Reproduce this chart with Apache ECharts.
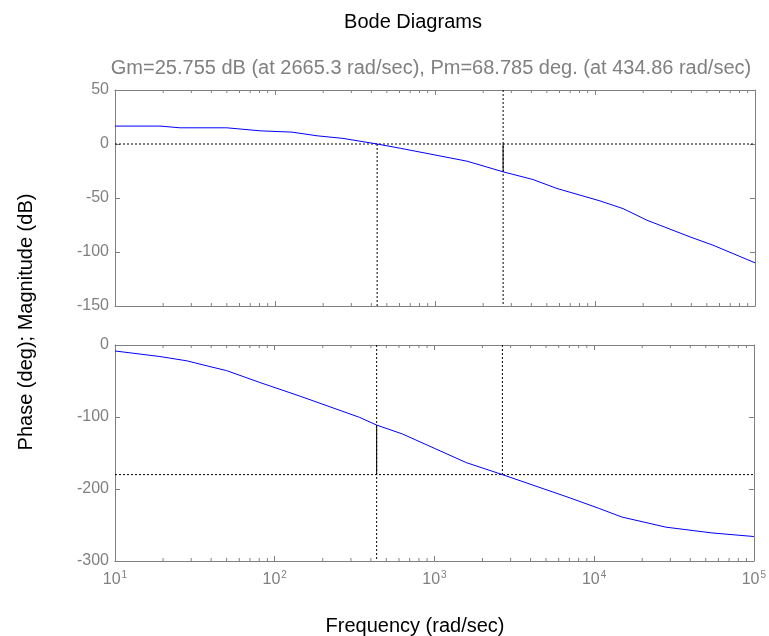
<!DOCTYPE html>
<html>
<head>
<meta charset="utf-8">
<script src="https://cdn.jsdelivr.net/npm/echarts@6/dist/echarts.min.js"></script>
<style>
  html, body { margin: 0; padding: 0; background: #fff; }
  #chart { width: 769px; height: 636px; }
</style>
</head>
<body>
<div id="chart"></div>
<script>
// Open-loop frequency response samples (rad/sec)
var magFreq  = [10, 19.1, 25.5, 50, 80.6, 127.7, 183, 266, 434.86, 610, 1585, 2665.3, 4098, 5788, 10750, 14962, 21135, 39250, 54640, 100000];
var magDb    = [16.6, 16.6, 15.0, 15.0, 12.2, 11.0, 7.6, 5.2, 0, -4, -15.9, -25.755, -32.9, -41.2, -52.7, -59.8, -70.6, -86, -93.7, -110];
var phaseFreq = [10, 19.1, 28.2, 39.3, 50, 80.6, 143, 340, 434.86, 631, 1585, 2665.3, 6982, 10750, 14962, 28184, 54640, 100000];
var phaseDeg  = [-8.3, -16, -22, -30, -35.6, -52, -70.8, -100.5, -111.215, -123.6, -163.4, -180, -212, -227, -239, -253, -261, -266];

// Stability margins
var gainMarginDb = 25.755;
var gainCrossFreq = 2665.3;    // phase crossover, where gain margin is read
var phaseMarginDeg = 68.785;
var phaseCrossFreq = 434.86;   // gain crossover, where phase margin is read

// Axis ranges and tick labels
var freqRange = [10, 100000];
var magRange = [-150, 50];
var magStep = 50;
var phaseRange = [-300, 0];
var phaseStep = 100;
var decadeExponents = [1, 2, 3, 4, 5];

var titleText = 'Bode Diagrams';
var marginText = 'Gm=' + gainMarginDb + ' dB (at ' + gainCrossFreq + ' rad/sec), Pm=' +
  phaseMarginDeg + ' deg. (at ' + phaseCrossFreq + ' rad/sec)';
var xLabelText = 'Frequency (rad/sec)';
var yLabelText = 'Phase (deg); Magnitude (dB)';

// Minor log ticks: 2..9 within every decade
var minorFreqs = [];
for (var d = 0; d < decadeExponents.length - 1; d++) {
  for (var m = 2; m <= 9; m++) minorFreqs.push(m * Math.pow(10, decadeExponents[d]));
}

var FONT = '"Liberation Sans", Arial, Helvetica, sans-serif';
var AXIS_GRAY = '#808080';
var phaseLine = -180 + phaseMarginDeg;

function pairs(xs, ys) { return xs.map(function (x, i) { return [x, ys[i]]; }); }

function logAxis(grid, pos, showLabels) {
  return {
    type: 'log', logBase: 10, gridIndex: grid, position: pos,
    min: freqRange[0], max: freqRange[1],
    axisLine: { show: true, onZero: false, lineStyle: { color: AXIS_GRAY, width: 1 } },
    axisTick: { show: true, inside: true, length: 5, lineStyle: { color: AXIS_GRAY } },
    splitLine: { show: false },
    axisLabel: showLabels ? {
      show: true, margin: 9,
      formatter: function (v) {
        var e = Math.round(Math.log10(v));
        return '{b|10}{e|' + e + '}';
      },
      rich: {
        b: { fontFamily: FONT, fontSize: 16, color: AXIS_GRAY, lineHeight: 18, verticalAlign: 'bottom' },
        e: { fontFamily: FONT, fontSize: 10, color: AXIS_GRAY, lineHeight: 18, verticalAlign: 'top', padding: [0, 0, 0, 1] }
      }
    } : { show: false }
  };
}

function valueAxis(grid, pos, range, step, showLabels) {
  return {
    type: 'value', gridIndex: grid, position: pos,
    min: range[0], max: range[1], interval: step,
    axisLine: { show: true, onZero: false, lineStyle: { color: AXIS_GRAY, width: 1 } },
    axisTick: { show: true, inside: true, length: 5, lineStyle: { color: AXIS_GRAY } },
    splitLine: { show: false },
    axisLabel: showLabels ? { show: true, margin: 6, fontFamily: FONT, fontSize: 16, color: AXIS_GRAY } : { show: false }
  };
}

function segment(xAxisIndex, yAxisIndex, pts, dotted) {
  return {
    type: 'line', xAxisIndex: xAxisIndex, yAxisIndex: yAxisIndex,
    data: pts, symbol: 'none', silent: true, animation: false,
    lineStyle: { color: '#000', width: 1, type: dotted ? [2, 2] : 'solid' },
    z: 3
  };
}

function minorTicks(xAxisIndex, yAxisIndex, range) {
  return {
    type: 'custom', xAxisIndex: xAxisIndex, yAxisIndex: yAxisIndex,
    silent: true, animation: false, z: 4,
    data: minorFreqs.map(function (f) { return [f]; }),
    renderItem: function (params, api) {
      var f = api.value(0);
      var lo = api.coord([f, range[0]]);
      var hi = api.coord([f, range[1]]);
      var len = 3;
      return {
        type: 'group',
        children: [
          { type: 'line', shape: { x1: lo[0], y1: lo[1], x2: lo[0], y2: lo[1] - len }, style: { stroke: AXIS_GRAY, lineWidth: 1 } },
          { type: 'line', shape: { x1: hi[0], y1: hi[1], x2: hi[0], y2: hi[1] + len }, style: { stroke: AXIS_GRAY, lineWidth: 1 } }
        ]
      };
    }
  };
}

var chart = echarts.init(document.getElementById('chart'), null, { renderer: 'canvas' });

var option = {
  backgroundColor: '#fff',
  animation: false,
  grid: [
    { left: 115, right: 14, top: 90, height: 216, containLabel: false },
    { left: 115, right: 14, top: 345, height: 216, containLabel: false }
  ],
  xAxis: [
    logAxis(0, 'bottom', false),
    logAxis(0, 'top', false),
    logAxis(1, 'bottom', true),
    logAxis(1, 'top', false)
  ],
  yAxis: [
    valueAxis(0, 'left', magRange, magStep, true),
    valueAxis(0, 'right', magRange, magStep, false),
    valueAxis(1, 'left', phaseRange, phaseStep, true),
    valueAxis(1, 'right', phaseRange, phaseStep, false)
  ],
  graphic: [
    { type: 'text', x: 413, y: 22, style: { text: titleText, font: '20px ' + FONT, fill: '#000', align: 'center', verticalAlign: 'middle' } },
    { type: 'text', x: 431, y: 68, style: { text: marginText, font: '20px ' + FONT, fill: AXIS_GRAY, align: 'center', verticalAlign: 'middle' } },
    { type: 'text', x: 415, y: 626, style: { text: xLabelText, font: '20px ' + FONT, fill: '#000', align: 'center', verticalAlign: 'middle' } },
    { type: 'text', x: 26, y: 322, rotation: Math.PI / 2, style: { text: yLabelText, font: '20px ' + FONT, fill: '#000', align: 'center', verticalAlign: 'middle' } }
  ],
  series: [
    minorTicks(0, 0, magRange),
    minorTicks(2, 2, phaseRange),

    // magnitude panel margin markers
    segment(0, 0, [[freqRange[0], 0], [freqRange[1], 0]], true),
    segment(0, 0, [[phaseCrossFreq, 0], [phaseCrossFreq, magRange[0]]], true),
    segment(0, 0, [[gainCrossFreq, magRange[1]], [gainCrossFreq, magRange[0]]], true),
    segment(0, 0, [[gainCrossFreq, 0], [gainCrossFreq, -gainMarginDb]], false),

    // phase panel margin markers
    segment(2, 2, [[freqRange[0], -180], [freqRange[1], -180]], true),
    segment(2, 2, [[phaseCrossFreq, phaseRange[1]], [phaseCrossFreq, phaseRange[0]]], true),
    segment(2, 2, [[gainCrossFreq, phaseRange[1]], [gainCrossFreq, -180]], true),
    segment(2, 2, [[phaseCrossFreq, phaseLine], [phaseCrossFreq, -180]], false),

    {
      name: 'Magnitude', type: 'line', xAxisIndex: 0, yAxisIndex: 0,
      data: pairs(magFreq, magDb), symbol: 'none', z: 5,
      lineStyle: { color: '#0000ff', width: 1 }
    },
    {
      name: 'Phase', type: 'line', xAxisIndex: 2, yAxisIndex: 2,
      data: pairs(phaseFreq, phaseDeg), symbol: 'none', z: 5,
      lineStyle: { color: '#0000ff', width: 1 }
    }
  ]
};

chart.setOption(option);
</script>
</body>
</html>
